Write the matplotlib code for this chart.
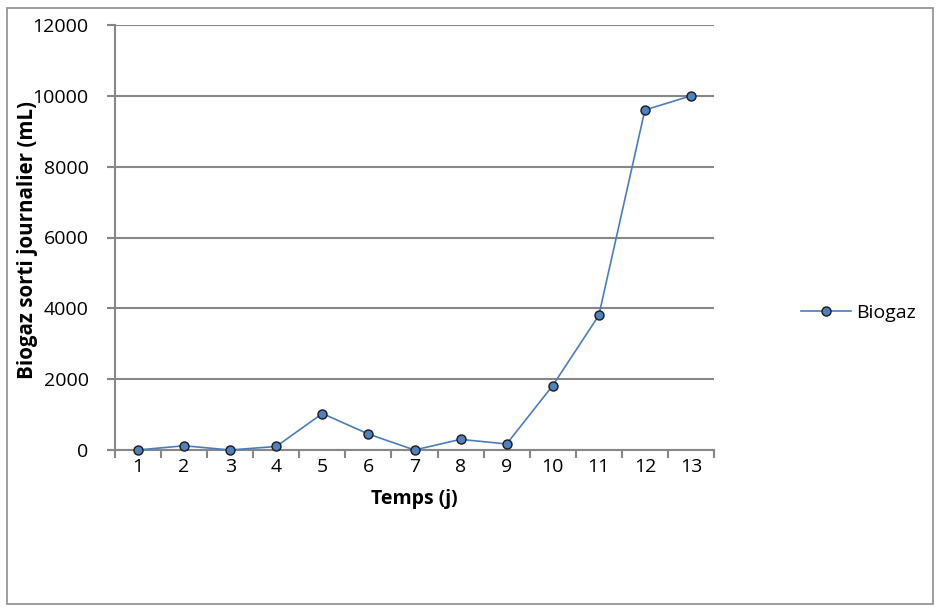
import matplotlib
matplotlib.use("Agg")
import matplotlib.pyplot as plt
from matplotlib.patches import Rectangle

# --- Data ---
days = list(range(1, 14))
biogas = [0, 120, 0, 100, 1030, 450, 0, 300, 170, 1820, 3800, 9600, 10000]
y_ticks = [0, 2000, 4000, 6000, 8000, 10000, 12000]

plt.rcParams["font.family"] = ["Open Sans", "DejaVu Sans"]
FS = 14

W, H = 941, 612
fig = plt.figure(figsize=(W / 100, H / 100), dpi=100)

# outer chart border
fig.patches.append(Rectangle((7 / W, 8 / H), (933 - 7) / W, (604 - 8) / H,
                             transform=fig.transFigure, fill=False,
                             edgecolor="#8c8c8c", linewidth=1.2))

ax = fig.add_axes([115 / W, (H - 450) / H, 599 / W, 425 / H])
grid_col = "#878787"

x = list(range(len(days)))
ax.plot(x, biogas, color="#4A7EBB", linewidth=1.2, marker="o", markersize=6.5,
        markerfacecolor="#4F81BD", markeredgecolor="#1a1a1a", markeredgewidth=1,
        label="Biogaz", zorder=3, clip_on=False)

ax.set_xlim(-0.5, len(days) - 0.5)
ax.set_ylim(0, 12000)
ax.set_yticks(y_ticks)
ax.set_yticklabels([str(v) for v in y_ticks], fontsize=FS)
ax.set_xticks(x)
ax.set_xticklabels([str(d) for d in days], fontsize=FS)
ax.set_xticks([i - 0.5 for i in range(len(days) + 1)], minor=True)

ax.tick_params(axis="x", which="major", length=0, pad=6)
ax.tick_params(axis="x", which="minor", length=6, width=1.5, color=grid_col)
ax.tick_params(axis="y", length=6, width=1.5, color=grid_col, pad=13)

ax.yaxis.grid(True, color=grid_col, linewidth=1.5)
ax.set_axisbelow(True)
for side in ["top", "right"]:
    ax.spines[side].set_visible(False)
for side in ["left", "bottom"]:
    ax.spines[side].set_color(grid_col)
    ax.spines[side].set_linewidth(1.5)

ax.set_xlabel("Temps (j)", fontsize=FS, fontweight="bold", labelpad=9)
ax.set_ylabel("Biogaz sorti journalier (mL)", fontsize=14.8, fontweight="bold")
ax.yaxis.set_label_coords(-77 / 599, 0.495)

ax.legend(loc="center left", bbox_to_anchor=(783 / W, (H - 313) / H),
          bbox_transform=fig.transFigure, frameon=False, fontsize=FS,
          handlelength=2.6, handletextpad=0.25)

fig.savefig("out.png", dpi=100)
